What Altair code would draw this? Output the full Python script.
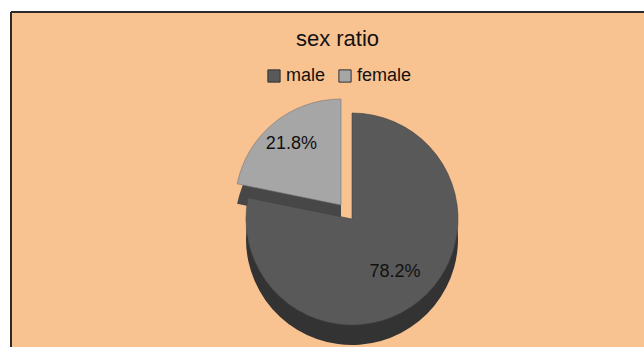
import altair as alt
import pandas as pd

categories = ["male", "female"]
values = [78.2, 21.8]
labels = ["78.2%", "21.8%"]
top_colors = ["#595959", "#A6A6A6"]
side_colors = ["#333333", "#474747"]

df = pd.DataFrame({"sex": categories, "value": values, "label": labels, "idx": [0, 1]})

W, H = 633, 335
R = 106
D = 20
CX, CY = 341, 207
EX, EY = -11, -14

is_f = alt.datum.sex == "female"
is_m = alt.datum.sex == "male"

base = alt.Chart(df).encode(
    theta=alt.Theta("value:Q", stack=True),
    order=alt.Order("idx:Q", sort="ascending"),
)

color = alt.Color(
    "sex:N",
    scale=alt.Scale(domain=categories, range=top_colors),
    sort=categories,
    legend=alt.Legend(
        title=None, orient="none", legendX=254, legendY=55, direction="horizontal",
        symbolType="square", symbolSize=150, symbolStrokeColor="#333333", symbolStrokeWidth=1,
        labelFontSize=18, labelFont="Liberation Sans", labelColor="#111111",
        columnPadding=10, symbolOffset=0, labelOffset=3,
    ),
)

f_side = base.mark_arc(radius=R, fill=side_colors[1]).encode(
    x=alt.value(CX + EX), y=alt.value(CY + EY + D),
    opacity=alt.condition(is_f, alt.value(1), alt.value(0)),
)
f_top = base.mark_arc(radius=R, stroke="#777777", strokeWidth=0.6).encode(
    x=alt.value(CX + EX), y=alt.value(CY + EY), color=color,
    opacity=alt.condition(is_f, alt.value(1), alt.value(0)),
)
m_side = base.mark_arc(radius=R, fill=side_colors[0]).encode(
    x=alt.value(CX), y=alt.value(CY + D),
    opacity=alt.condition(is_m, alt.value(1), alt.value(0)),
)
m_top = base.mark_arc(radius=R, stroke="#444444", strokeWidth=0.6).encode(
    x=alt.value(CX), y=alt.value(CY), color=color,
    opacity=alt.condition(is_m, alt.value(1), alt.value(0)),
)
f_text = base.mark_text(radius=R * 0.74, fontSize=18, font="Liberation Sans", color="#111111").encode(
    x=alt.value(CX + EX), y=alt.value(CY + EY), text="label:N",
    opacity=alt.condition(is_f, alt.value(1), alt.value(0)),
)
m_text = base.mark_text(radius=R * 0.64, fontSize=18, font="Liberation Sans", color="#111111").encode(
    x=alt.value(CX), y=alt.value(CY), text="label:N",
    opacity=alt.condition(is_m, alt.value(1), alt.value(0)),
)

border_left = alt.Chart(df).mark_rule(color="#2b2b2b", strokeWidth=2).encode(
    x=alt.value(0), y=alt.value(0), y2=alt.value(H)
)
border_top = alt.Chart(df).mark_rule(color="#2b2b2b", strokeWidth=2).encode(
    x=alt.value(0), x2=alt.value(W), y=alt.value(0)
)

chart = alt.layer(
    f_side, f_top, m_side, m_top, f_text, m_text, border_left, border_top
).properties(
    width=W, height=H,
    autosize=alt.AutoSizeParams(type="none"),
    padding={"left": 11, "top": 12, "right": 0, "bottom": 0},
    background="white",
    title=alt.TitleParams(
        text="sex ratio", anchor="middle", offset=-40, dx=10,
        fontSize=22, font="Liberation Sans", fontWeight="normal", color="#111111",
    ),
).configure_view(fill="#F9C291", stroke=None)

chart.save("out.html", embed_options={"renderer": "svg", "actions": False})
